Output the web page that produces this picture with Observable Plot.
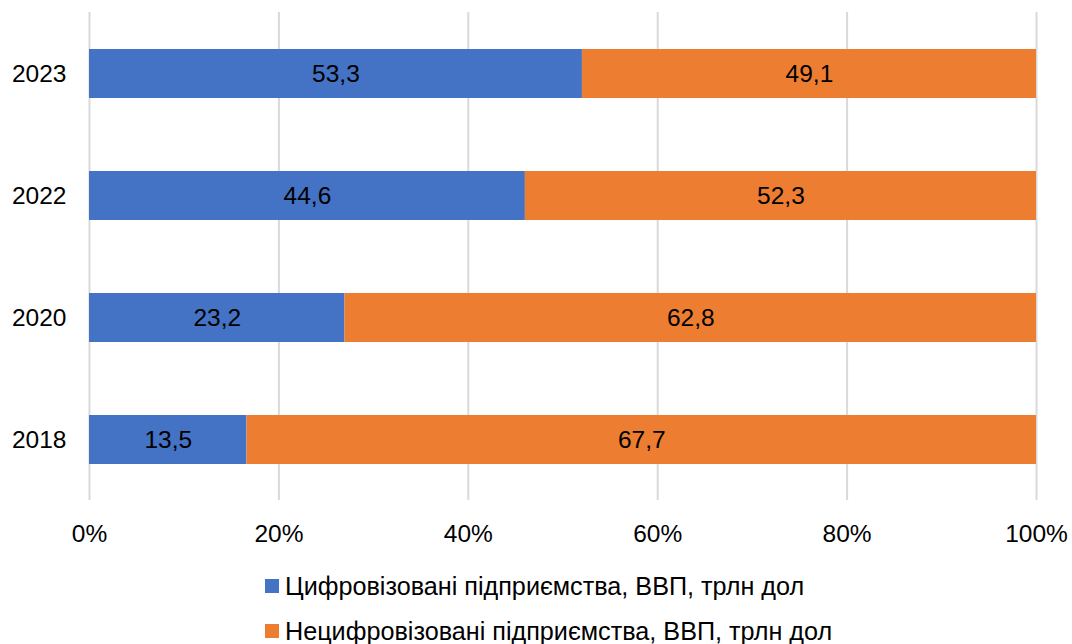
<!DOCTYPE html>
<html>
<head>
<meta charset="utf-8">
<script src="https://cdn.jsdelivr.net/npm/d3@7"></script>
<script src="https://cdn.jsdelivr.net/npm/@observablehq/plot@0.6"></script>
<style>
  html, body { margin: 0; padding: 0; background: #fff; }
  body { width: 1072px; height: 644px; overflow: hidden; font-family: "Liberation Sans", Arial, sans-serif; }
  #legend { display: flex; flex-direction: column; align-items: flex-start; margin-left: 265px; margin-top: 7px; }
  .item { display: flex; align-items: center; font-size: 25.2px; color: #000; height: 45px; line-height: 28px; }
  .sw { width: 14px; height: 14px; margin-right: 6px; }
</style>
</head>
<body>
<div id="chart"></div>
<div id="legend"></div>
<script>
const years = ["2023", "2022", "2020", "2018"];
const seriesNames = ["Цифровізовані підприємства, ВВП, трлн дол", "Нецифровізовані підприємства, ВВП, трлн дол"];
const digital = [53.3, 44.6, 23.2, 13.5];
const nonDigital = [49.1, 52.3, 62.8, 67.7];
const labelsDigital = ["53,3", "44,6", "23,2", "13,5"];
const labelsNonDigital = ["49,1", "52,3", "62,8", "67,7"];
const colors = ["#4472C4", "#ED7D31"];
const xTicks = [0, 0.2, 0.4, 0.6, 0.8, 1];

const data = [];
years.forEach((y, i) => {
  data.push({year: y, series: seriesNames[0], value: digital[i], label: labelsDigital[i]});
  data.push({year: y, series: seriesNames[1], value: nonDigital[i], label: labelsNonDigital[i]});
});

const fs = 24.5;
const chart = Plot.plot({
  width: 1072,
  height: 556,
  marginLeft: 89,
  marginRight: 36,
  marginTop: 12,
  marginBottom: 56,
  style: {fontFamily: "'Liberation Sans', Arial, sans-serif", fontSize: fs + "px", color: "#000", background: "#fff"},
  x: {domain: [0, 1], ticks: xTicks, tickFormat: d => Math.round(d * 100) + "%", label: null},
  y: {domain: years, paddingInner: 0.6, paddingOuter: 0.3, label: null},
  color: {domain: seriesNames, range: colors},
  marks: [
    Plot.gridX(xTicks, {stroke: "#d9d9d9", strokeOpacity: 1, strokeWidth: 2}),
    Plot.barX(data, Plot.stackX({offset: "normalize", x: "value", y: "year", fill: "series", z: "series"})),
    Plot.textX(data, Plot.stackX({offset: "normalize", x: "value", y: "year", z: "series", text: "label", fill: "#000", fontSize: fs})),
    Plot.axisX({ticks: xTicks, tickSize: 0, tickPadding: 24, fontSize: fs, tickFormat: d => Math.round(d * 100) + "%", label: null}),
    Plot.axisY({tickSize: 0, tickPadding: 23, fontSize: fs, label: null})
  ]
});
document.getElementById("chart").appendChild(chart);

const legend = document.getElementById("legend");
seriesNames.forEach((s, i) => {
  const it = document.createElement("div");
  it.className = "item";
  const sw = document.createElement("span");
  sw.className = "sw";
  sw.style.background = colors[i];
  const t = document.createElement("span");
  t.textContent = s;
  it.appendChild(sw);
  it.appendChild(t);
  legend.appendChild(it);
});
</script>
</body>
</html>
